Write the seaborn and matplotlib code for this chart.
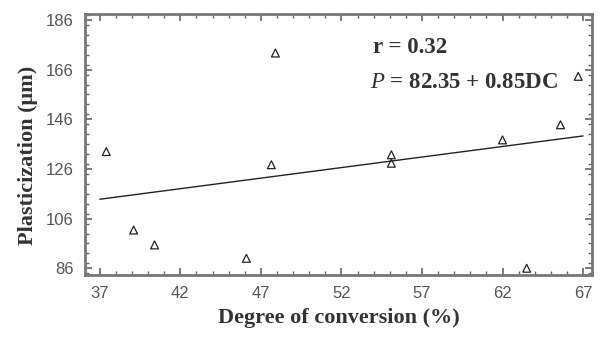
import matplotlib
matplotlib.use("Agg")
import matplotlib.pyplot as plt
from matplotlib.ticker import MultipleLocator
import numpy as np
import pandas as pd
import seaborn as sns

# data
dc = [37.4, 39.1, 40.4, 46.1, 47.65, 47.9, 55.1, 55.1, 62.0, 63.5, 65.6, 66.7]
plast = [133.0, 101.4, 95.4, 90.0, 127.7, 172.7, 131.7, 128.3, 137.7, 86.0, 143.8, 163.3]
fit_intercept = 82.35
fit_slope = 0.85
fit_x = [37.0, 67.0]
x_ticks = [37, 42, 47, 52, 57, 62, 67]
y_ticks = [86, 106, 126, 146, 166, 186]

df = pd.DataFrame({"DC": dc, "P": plast})
fit_df = pd.DataFrame({"DC": fit_x})
fit_df["P"] = fit_intercept + fit_slope * fit_df["DC"]

sns.set_style("ticks")
plt.rcParams["font.family"] = ["Liberation Serif", "DejaVu Serif"]
plt.rcParams["mathtext.fontset"] = "custom"
plt.rcParams["mathtext.it"] = "Liberation Serif:italic"
plt.rcParams["mathtext.rm"] = "Liberation Serif"

fig = plt.figure(figsize=(6.06, 3.42), dpi=100)
ax = fig.add_axes([0.140, 0.196, 0.837, 0.763])

sns.lineplot(data=fit_df, x="DC", y="P", ax=ax, color="#222222", lw=1.0)
sns.scatterplot(data=df, x="DC", y="P", ax=ax, marker="^", s=32,
                facecolor="none", edgecolor="#222222", linewidth=0.9)

ax.set_xlim(36.07, 67.56)
ax.set_ylim(83.3, 188.4)
ax.set_xticks(x_ticks)
ax.set_yticks(y_ticks)
ax.xaxis.set_minor_locator(MultipleLocator(1))
ax.yaxis.set_minor_locator(MultipleLocator(4))

for lab in ax.get_xticklabels() + ax.get_yticklabels():
    lab.set_family(["Liberation Sans", "DejaVu Sans"])
    lab.set_fontsize(12)
    lab.set_color("#555555")

ax.tick_params(which="both", direction="in", top=True, right=True,
               color="#666666", pad=8)
ax.tick_params(which="major", length=5, width=1.2)
ax.tick_params(which="minor", length=3, width=1.0)
for sp in ax.spines.values():
    sp.set_color("#777777")
    sp.set_linewidth(2.0)

ax.set_xlabel("Degree of conversion (%)", fontsize=16, fontweight="bold",
              color="#333333", labelpad=5)
ax.set_ylabel("Plasticization (\u03bcm)", fontsize=16, fontweight="bold",
              color="#333333")
ax.yaxis.set_label_coords(-0.093, 0.46)

ax.text(53.96, 174.8, "r = 0.32", fontsize=16.5, fontweight="bold",
        color="#333333", va="center", ha="left")
ax.text(53.8, 160.7, r"$P$" + " = 82.35 + 0.85DC", fontsize=16.5,
        fontweight="bold", color="#333333", va="center", ha="left")

fig.savefig("out.png", dpi=100)
